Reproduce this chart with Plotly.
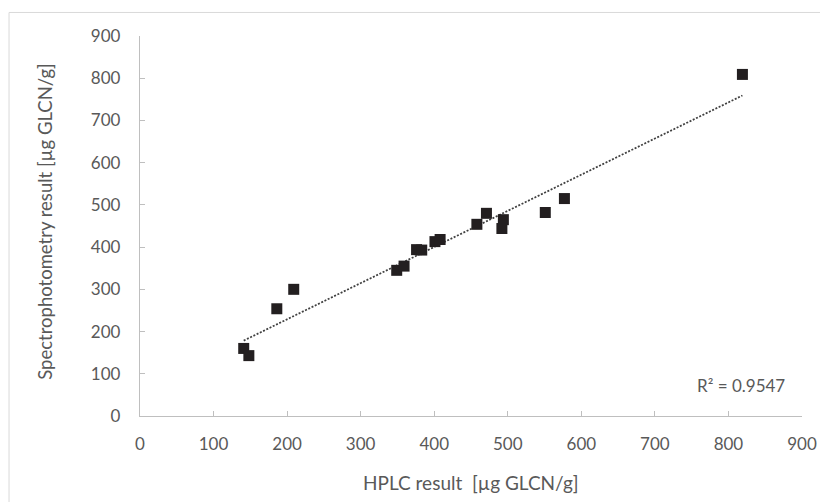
import numpy as np
import plotly.graph_objects as go

# Data
hplc = [141, 148, 186, 209, 349, 359, 376, 383, 401, 408, 458, 471, 494, 492, 551, 577, 819]
spectro = [160, 143, 254, 300, 345, 355, 394, 393, 413, 418, 454, 480, 465, 444, 482, 515, 809]
tick_vals = [0, 100, 200, 300, 400, 500, 600, 700, 800, 900]
r2_label = "R² = 0.9547"
x_title = "HPLC result  [µg GLCN/g]"
y_title = "Spectrophotometry result [µg GLCN/g]"

# Linear trendline (least squares)
slope, intercept = np.polyfit(hplc, spectro, 1)
x_fit = [min(hplc), max(hplc)]
y_fit = [slope * v + intercept for v in x_fit]

FONT = "Lato"
GREY = "#595959"
AXIS = "#bfbfbf"

W, H = 820, 494
L, R, T, B = 131.5, 26.3, 28, 86.3
PW, PH = W - L - R, H - T - B

fig = go.Figure()
fig.add_trace(go.Scatter(
    x=x_fit, y=y_fit, mode="lines",
    line=dict(color="#404040", width=1.75, dash="2px,1.6px"),
    hoverinfo="skip", showlegend=False,
))
fig.add_trace(go.Scatter(
    x=hplc, y=spectro, mode="markers",
    marker=dict(symbol="square", size=11, color="#231f20", line=dict(width=0)),
    showlegend=False,
))

fig.update_layout(
    width=W, height=H,
    margin=dict(l=L, r=R, t=T, b=B),
    paper_bgcolor="white", plot_bgcolor="white",
    font=dict(family=FONT, size=17, color=GREY),
    showlegend=False,
    shapes=[dict(type="rect", xref="paper", yref="paper",
                 x0=(0.5 - L) / PW, x1=(W + 20 - L) / PW,
                 y0=-(B + 20) / PH, y1=(H - B - 4.5) / PH,
                 line=dict(color="#d9d9d9", width=1), fillcolor="rgba(0,0,0,0)", layer="below")],
    annotations=[
        dict(text=r2_label, xref="x", yref="y", x=880, y=73,
             xanchor="right", yanchor="middle", showarrow=False,
             font=dict(family=FONT, size=17, color=GREY)),
        dict(text=x_title, xref="paper", yref="paper", x=0.5, y=-66 / PH,
             xanchor="center", yanchor="middle", showarrow=False,
             font=dict(family=FONT, size=19, color=GREY)),
        dict(text=y_title, xref="paper", yref="paper", x=-94.5 / PW, y=0.51,
             xanchor="center", yanchor="middle", showarrow=False, textangle=-90,
             font=dict(family=FONT, size=18.5, color=GREY)),
    ],
)
fig.update_xaxes(
    range=[0, 900], tickvals=tick_vals, showgrid=False, zeroline=False,
    showline=True, linecolor=AXIS, linewidth=1.3,
    ticks="inside", ticklen=5, tickcolor=AXIS, tickwidth=1.3,
    tickfont=dict(family=FONT, size=17, color=GREY),
    ticklabelstandoff=12, automargin=False,
)
fig.update_yaxes(
    range=[0, 900], tickvals=tick_vals, showgrid=False, zeroline=False,
    showline=True, linecolor=AXIS, linewidth=1.3,
    ticks="inside", ticklen=5, tickcolor=AXIS, tickwidth=1.3,
    tickfont=dict(family=FONT, size=17, color=GREY),
    ticklabelstandoff=15, automargin=False,
)

fig.write_html("out.html")
